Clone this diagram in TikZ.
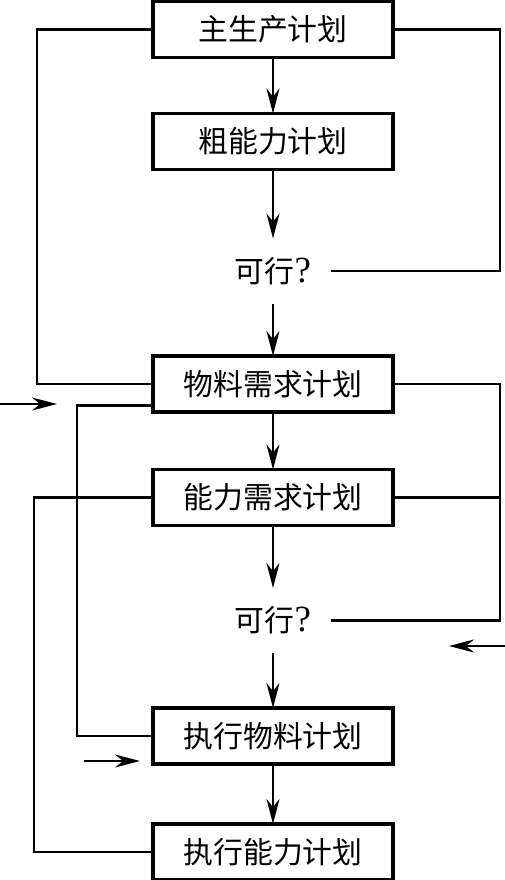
\documentclass[tikz,border=0pt]{standalone}
\usepackage{fontspec}
\setmainfont{Liberation Serif}
\newfontfamily\cjk{Noto Sans CJK SC}
\usetikzlibrary{arrows.meta, positioning}

\begin{document}
\begin{tikzpicture}[
  node distance=11mm,
  block/.style={draw, line width=2.1pt, outer sep=0pt, minimum width=4.8cm, minimum height=1.12cm, inner sep=0pt, align=center, font=\cjk\fontsize{17pt}{20pt}\selectfont},
  check/.style={outer sep=0pt, minimum width=2.3cm, minimum height=1.3cm, inner sep=0pt, font=\fontsize{21pt}{24pt}\selectfont},
  arrow/.style={-{Stealth[length=5mm, width=2.6mm]}, line width=1.3pt},
  link/.style={line width=1.3pt}
]
\useasboundingbox (0,0) rectangle (10.1,-17.6);

\node[block] (mps) at (5.46,-0.59) {主生产计划};
\node[block, below=1.12cm of mps] (rccp) {粗能力计划};
\node[check, below=1.38cm of rccp] (chk1) {{\cjk\fontsize{17pt}{20pt}\selectfont 可行}?};
\node[block, below=1.05cm of chk1] (mrp) {物料需求计划};
\node[block, below=1.15cm of mrp] (crp) {能力需求计划};
\node[check, below=1.25cm of crp] (chk2) {{\cjk\fontsize{17pt}{20pt}\selectfont 可行}?};
\node[block, below=1.1cm of chk2] (exmat) {执行物料计划};
\node[block, below=1.2cm of exmat] (excap) {执行能力计划};

% outside inputs
\coordinate (mrpin) at (0,-8.08);
\coordinate (mrpto) at (1.14,-8.08);
\coordinate (chkin) at (10.1,-12.92);
\coordinate (chkto) at (8.98,-12.92);
\coordinate (exin) at (1.68,-15.22);
\coordinate (exto) at (2.8,-15.22);

\draw[arrow] (mps) -- (rccp);
\draw[arrow] (rccp) -- (chk1);
\draw[arrow] (chk1) -- (mrp);
\draw[arrow] (mrp) -- (crp);
\draw[arrow] (crp) -- (chk2);
\draw[arrow] (chk2) -- (exmat);
\draw[arrow] (exmat) -- (excap);

\draw[link] (mps.west) -- ++(-2.32,0) |- (mrp.west);
\draw[link] (mps.east) -- ++(2.14,0) |- (chk1.east);
\draw[link] ([yshift=-0.43cm]mrp.west) -- ++(-1.52,0) |- (exmat.west);
\draw[link] (crp.west) -- ++(-2.38,0) |- (excap.west);
\draw[link] (mrp.east) -- ++(2.14,0) |- (chk2.east);
\draw[link] (crp.east) -- ++(2.14,0);

\draw[arrow] (mrpin) -- (mrpto);
\draw[arrow] (chkin) -- (chkto);
\draw[arrow] (exin) -- (exto);
\end{tikzpicture}
\end{document}
